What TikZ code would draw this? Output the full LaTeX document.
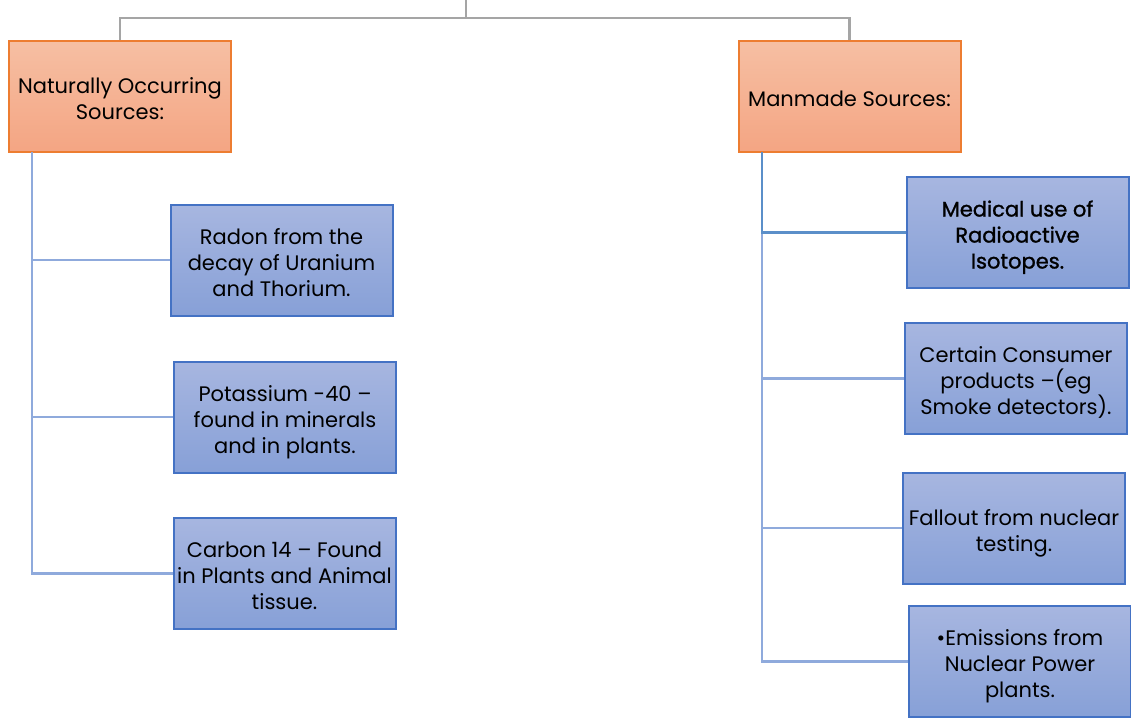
\documentclass[tikz,border=0pt]{standalone}
\usepackage{fontspec}
\setmainfont{Poppins}
\newfontfamily\semibold{Poppins}[FakeBold=1.3]
\newcommand\stt{\rule{0pt}{26pt}}
\newcommand\stb{\rule[-6pt]{0pt}{6pt}}
\definecolor{orfill1}{HTML}{F6BFA3}
\definecolor{orfill2}{HTML}{F4A583}
\definecolor{ordraw}{HTML}{ED7D31}
\definecolor{blfill1}{HTML}{A7B6E0}
\definecolor{blfill2}{HTML}{87A0D7}
\definecolor{bldraw}{HTML}{4472C4}
\definecolor{greyln}{HTML}{A5A5A5}
\definecolor{blueln}{HTML}{8FAADC}
\definecolor{bluedk}{HTML}{5B8FC9}
\tikzset{
  x=1pt, y=-1pt,
  orangebox/.style={draw=ordraw, line width=2pt, top color=orfill1, bottom color=orfill2,
    minimum width=222pt, minimum height=111pt, align=center, inner sep=0pt,
    font=\fontsize{21}{26}\selectfont},
  bluebox/.style={draw=bldraw, line width=2pt, top color=blfill1, bottom color=blfill2,
    minimum width=222pt, minimum height=111pt, align=center, inner sep=0pt,
    font=\fontsize{21}{26}\selectfont},
  greyline/.style={draw=greyln, line width=2.2pt},
  blueline/.style={draw=blueln, line width=2.2pt},
  bluedark/.style={draw=bluedk, line width=2.2pt}
}
\begin{document}
\begin{tikzpicture}
\useasboundingbox (0,0) rectangle (1131,718);
% top-level nodes
\coordinate (root) at (466,0);
\coordinate (rootj) at (466,18);
\node[orangebox] (nat) at (120,96.5) {\stt Naturally Occurring\\Sources:\stb};
\node[orangebox] (man) at (849.5,96.5) {\stt Manmade Sources:\stb};
% left children
\node[bluebox] (r1) at (281.5,260) {\stt Radon from the\\decay of Uranium\\and Thorium.\stb};
\node[bluebox] (r2) at (285,417) {\stt Potassium -40 –\\found in minerals\\and in plants.\stb};
\node[bluebox] (r3) at (284.5,573.5) {\stt Carbon 14 – Found\\in Plants and Animal\\tissue.\stb};
% right children
\node[bluebox, font=\fontsize{21}{26}\semibold] (m1) at (1017.5,232.5) {\stt Medical use of\\Radioactive\\Isotopes.\stb};
\node[bluebox] (m2) at (1016,378.5) {\stt Certain Consumer\\products –(eg\\Smoke detectors).\stb};
\node[bluebox] (m3) at (1014,528) {\stt Fallout from nuclear\\testing.\stb};
\node[bluebox] (m4) at (1020,661.5) {\stt •Emissions from\\Nuclear Power\\plants.\stb};
% connectors top
\draw[greyline] (root) -- (rootj);
\draw[greyline] (rootj) -| (nat.north);
\draw[greyline] (rootj) -| (man.north);
% left spine
\coordinate (ls) at (32,152);
\draw[blueline] (ls) |- (r1.west);
\draw[blueline] (ls) |- (r2.west);
\draw[blueline] (ls) |- (r3.west);
% right spine
\coordinate (rs) at (762,152);
\draw[blueline] (rs) |- (m2.west);
\draw[blueline] (rs) |- (m3.west);
\draw[blueline] (rs) |- (m4.west);
\draw[bluedark] (rs) |- (m1.west);
\end{tikzpicture}
\end{document}
